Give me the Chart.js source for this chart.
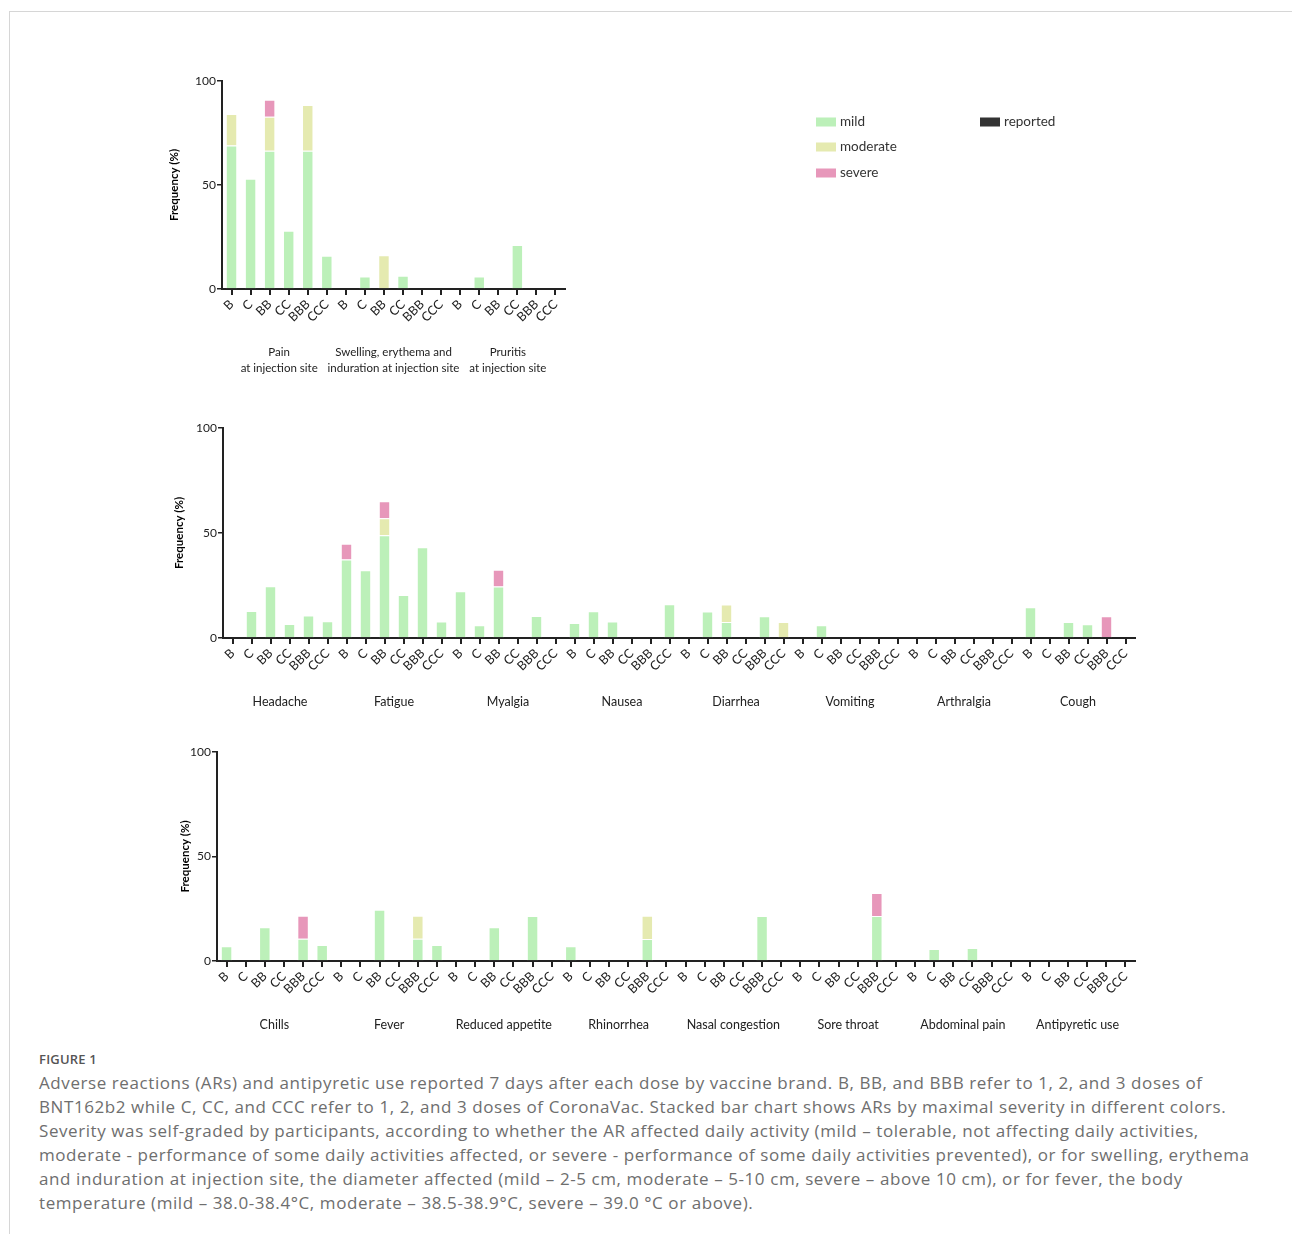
<!DOCTYPE html>
<html><head><meta charset="utf-8">
<script src="https://cdn.jsdelivr.net/npm/chart.js@4.4.1/dist/chart.umd.min.js"></script>
<style>
html,body{margin:0;padding:0;background:#fff;}
body{width:1292px;height:1234px;position:relative;overflow:hidden;font-family:Lato,"Open Sans",sans-serif;}
#frame{position:absolute;left:9px;top:11px;right:0;bottom:0;border-top:1px solid #d6d6d6;border-left:1px solid #d6d6d6;}
canvas{position:absolute;}
#caption{position:absolute;left:39px;top:1047px;width:1250px;color:#6e6e6e;font-family:"Open Sans",sans-serif;font-size:17px;line-height:24px;letter-spacing:0.58px;white-space:nowrap;}
#caption .fig{font-size:13px;color:#555;font-weight:600;letter-spacing:0.2px;}
</style>
</head><body>
<div id="frame"></div>
<canvas id="c1" width="1000" height="330" style="left:150px;top:60px;width:1000px;height:330px"></canvas>
<canvas id="c2" width="1000" height="320" style="left:150px;top:400px;width:1000px;height:320px"></canvas>
<canvas id="c3" width="1000" height="320" style="left:150px;top:725px;width:1000px;height:320px"></canvas>
<div id="caption"><div class="fig">FIGURE 1</div>Adverse reactions (ARs) and antipyretic use reported 7 days after each dose by vaccine brand. B, BB, and BBB refer to 1, 2, and 3 doses of<br>BNT162b2 while C, CC, and CCC refer to 1, 2, and 3 doses of CoronaVac. Stacked bar chart shows ARs by maximal severity in different colors.<br>Severity was self-graded by participants, according to whether the AR affected daily activity (mild &#8211; tolerable, not affecting daily activities,<br>moderate - performance of some daily activities affected, or severe - performance of some daily activities prevented), or for swelling, erythema<br>and induration at injection site, the diameter affected (mild &#8211; 2-5 cm, moderate &#8211; 5-10 cm, severe &#8211; above 10 cm), or for fever, the body<br>temperature (mild &#8211; 38.0-38.4&#176;C, moderate &#8211; 38.5-38.9&#176;C, severe &#8211; 39.0 &#176;C or above).</div>
<script>
// ---------- DATA ----------
const doseLabels = ['B', 'C', 'BB', 'CC', 'BBB', 'CCC'];
const severityLabels = ['mild', 'moderate', 'severe', 'reported'];
const yTicks = [0, 50, 100];

const panel1Groups = [['Pain', 'at injection site'], ['Swelling, erythema and', 'induration at injection site'], ['Pruritis', 'at injection site']];
const panel1Mild     = [69, 53, 66.5, 28, 66.5, 16,   0, 6, 0, 6.4, 0, 0,   0, 6, 0, 21.2, 0, 0];
const panel1Moderate = [15.1, 0, 16.3, 0, 22, 0,   0, 0, 16.2, 0, 0, 0,   0, 0, 0, 0, 0, 0];
const panel1Severe   = [0, 0, 8.2, 0, 0, 0,   0, 0, 0, 0, 0, 0,   0, 0, 0, 0, 0, 0];
const panel1Reported = [];

const panel2Groups = ['Headache', 'Fatigue', 'Myalgia', 'Nausea', 'Diarrhea', 'Vomiting', 'Arthralgia', 'Cough'];
const panel2Mild = [
  0, 12.9, 24.7, 6.7, 10.7, 8.0,
  37.4, 32.3, 48.9, 20.5, 43.2, 7.8,
  22.3, 6.1, 24.5, 0, 10.5, 0,
  7.2, 12.7, 7.8, 0, 0, 16.1,
  0, 12.6, 7.6, 0, 10.4, 0,
  0, 6.1, 0, 0, 0, 0,
  0, 0, 0, 0, 0, 0,
  14.6, 0, 7.6, 6.5, 0, 0];
const panel2Moderate = [
  0, 0, 0, 0, 0, 0,
  0, 0, 8.1, 0, 0, 0,
  0, 0, 0, 0, 0, 0,
  0, 0, 0, 0, 0, 0,
  0, 0, 8.3, 0, 0, 7.6,
  0, 0, 0, 0, 0, 0,
  0, 0, 0, 0, 0, 0,
  0, 0, 0, 0, 0, 0];
const panel2Severe = [
  0, 0, 0, 0, 0, 0,
  7.5, 0, 8.1, 0, 0, 0,
  0, 0, 8.0, 0, 0, 0,
  0, 0, 0, 0, 0, 0,
  0, 0, 0, 0, 0, 0,
  0, 0, 0, 0, 0, 0,
  0, 0, 0, 0, 0, 0,
  0, 0, 0, 0, 10.4, 0];
const panel2Reported = [];

const panel3Groups = ['Chills', 'Fever', 'Reduced appetite', 'Rhinorrhea', 'Nasal congestion', 'Sore throat', 'Abdominal pain', 'Antipyretic use'];
const panel3Mild = [
  7.0, 0, 16.1, 0, 10.7, 7.6,
  0, 0, 24.5, 0, 10.7, 7.6,
  0, 0, 16.1, 0, 21.5, 0,
  7.0, 0, 0, 0, 10.5, 0,
  0, 0, 0, 0, 21.5, 0,
  0, 0, 0, 0, 21.5, 0,
  0, 5.7, 0, 6.2, 0, 0,
  0, 0, 0, 0, 0, 0];
const panel3Moderate = [
  0, 0, 0, 0, 0, 0,
  0, 0, 0, 0, 11.0, 0,
  0, 0, 0, 0, 0, 0,
  0, 0, 0, 0, 11.2, 0,
  0, 0, 0, 0, 0, 0,
  0, 0, 0, 0, 0, 0,
  0, 0, 0, 0, 0, 0,
  0, 0, 0, 0, 0, 0];
const panel3Severe = [
  0, 0, 0, 0, 11.0, 0,
  0, 0, 0, 0, 0, 0,
  0, 0, 0, 0, 0, 0,
  0, 0, 0, 0, 0, 0,
  0, 0, 0, 0, 0, 0,
  0, 0, 0, 0, 11.0, 0,
  0, 0, 0, 0, 0, 0,
  0, 0, 0, 0, 0, 0];
const panel3Reported = [];

// ---------- STYLE ----------
const COLORS = {mild: '#bcf0b9', moderate: '#e5eab0', severe: '#e797ba', reported: '#333333'};
const INK = '#222222';
const FONT = 'Lato';

function repeatLabels(groupCount) {
  const out = [];
  for (let g = 0; g < groupCount; g++) doseLabels.forEach(l => out.push(l));
  return out;
}

const legendPlugin = {
  id: 'sideLegend',
  afterDraw(chart, args, opts) {
    if (!opts || !opts.show) return;
    const ctx = chart.ctx;
    ctx.save();
    ctx.font = '13.5px ' + FONT;
    ctx.textBaseline = 'middle';
    ctx.textAlign = 'left';
    chart.data.datasets.forEach((ds, i) => {
      const p = opts.positions[i];
      ctx.fillStyle = ds.backgroundColor;
      ctx.fillRect(p.x, p.y - 4.5, 20, 9);
      ctx.fillStyle = '#333';
      ctx.fillText(ds.label, p.x + 24, p.y);
    });
    ctx.restore();
  }
};

function makeChart(id, groups, mild, moderate, severe, reported, lay) {
  const labels = repeatLabels(groups.length);
  return new Chart(document.getElementById(id), {
    type: 'bar',
    data: {
      labels: labels,
      datasets: [
        {label: severityLabels[0], data: mild, backgroundColor: COLORS.mild},
        {label: severityLabels[1], data: moderate, backgroundColor: COLORS.moderate},
        {label: severityLabels[2], data: severe, backgroundColor: COLORS.severe},
        {label: severityLabels[3], data: reported, backgroundColor: COLORS.reported}
      ]
    },
    options: {
      responsive: false,
      animation: false,
      devicePixelRatio: 1,
      layout: {padding: {top: lay.top, left: 0, right: lay.right, bottom: 0}},
      datasets: {bar: {categoryPercentage: 1, barPercentage: 0.6, borderColor: '#ffffff', borderWidth: 1, borderSkipped: 'start'}},
      plugins: {
        legend: {display: false},
        tooltip: {enabled: false},
        sideLegend: lay.legend || {show: false}
      },
      scales: {
        y: {
          stacked: true, min: 0, max: 100,
          afterBuildTicks: s => { s.ticks = yTicks.map(v => ({value: v})); },
          afterFit: s => { s.width = lay.yWidth; },
          grid: {drawOnChartArea: false, drawTicks: true, tickLength: 5, color: INK, lineWidth: 1.5},
          border: {display: true, color: INK, width: 2},
          ticks: {color: INK, padding: 1, font: {family: FONT, size: 12}},
          title: {display: true, text: 'Frequency (%)', color: '#000', font: {family: FONT, size: 11.5, weight: 'bold'}, padding: {top: lay.titlePad, bottom: 0}}
        },
        x: {
          stacked: true, weight: 0,
          afterFit: s => { s.height = 50; },
          grid: {drawOnChartArea: false, drawTicks: true, tickLength: 6, color: INK, lineWidth: 2, offset: false},
          border: {display: true, color: INK, width: 2},
          ticks: {color: INK, padding: 2, minRotation: 45, maxRotation: 45, autoSkip: false, font: {family: FONT, size: 12.5}}
        },
        x2: {
          type: 'category', position: 'bottom', weight: 1, offset: true,
          labels: groups,
          afterFit: s => { s.height = lay.x2Height; },
          grid: {display: false, drawTicks: false},
          border: {display: false},
          ticks: {color: INK, padding: lay.groupPad, autoSkip: false, maxRotation: 0, minRotation: 0, font: {family: FONT, size: lay.groupFont, lineHeight: 1.4}}
        }
      }
    },
    plugins: [legendPlugin]
  });
}

makeChart('c1', panel1Groups, panel1Mild, panel1Moderate, panel1Severe, panel1Reported, {
  top: 21, right: 585, yWidth: 72, titlePad: 17.2, x2Height: 51, groupPad: 5.5, groupFont: 11.5,
  legend: {show: true, positions: [{x: 666, y: 62}, {x: 666, y: 87}, {x: 666, y: 113}, {x: 830, y: 62}]}
});
makeChart('c2', panel2Groups, panel2Mild, panel2Moderate, panel2Severe, panel2Reported, {
  top: 28, right: 15, yWidth: 73, titlePad: 22.2, x2Height: 32, groupPad: 5.5, groupFont: 12.5
});
makeChart('c3', panel3Groups, panel3Mild, panel3Moderate, panel3Severe, panel3Reported, {
  top: 27, right: 15, yWidth: 67, titlePad: 28.8, x2Height: 34, groupPad: 5.5, groupFont: 12.5
});
</script>
</body></html>
